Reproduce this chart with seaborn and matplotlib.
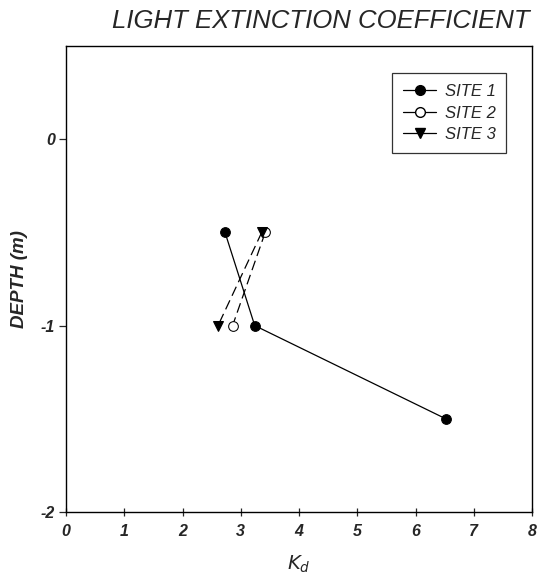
import numpy as np
import pandas as pd
import matplotlib
matplotlib.use("Agg")
import matplotlib.pyplot as plt
from matplotlib.lines import Line2D
import seaborn as sns

sns.set_style('ticks')
plt.rcParams['font.family'] = ['Liberation Sans', 'DejaVu Sans']

# values
site_names = ["SITE 1", "SITE 2", "SITE 3"]
site1_kd = [2.73, 3.24, 6.52]
site1_depth = [-0.5, -1.0, -1.5]
site2_kd = [3.42, 2.86]
site2_depth = [-0.5, -1.0]
site3_kd = [3.36, 2.61]
site3_depth = [-0.5, -1.0]
x_ticks = [0, 1, 2, 3, 4, 5, 6, 7, 8]
y_ticks = [0, -1, -2]

df = pd.concat([
    pd.DataFrame({'kd': site1_kd, 'depth': site1_depth, 'site': site_names[0]}),
    pd.DataFrame({'kd': site2_kd, 'depth': site2_depth, 'site': site_names[1]}),
    pd.DataFrame({'kd': site3_kd, 'depth': site3_depth, 'site': site_names[2]}),
], ignore_index=True)

fig = plt.figure(figsize=(5.38, 5.86), dpi=100)
ax = fig.add_axes([66/538, 1-512/586, (532-66)/538, (512-46)/586])

styles = {
    "SITE 1": dict(marker='o', mfc='black', ls='-'),
    "SITE 2": dict(marker='o', mfc='white', ls=(0, (8, 4))),
    "SITE 3": dict(marker='v', mfc='black', ls=(0, (8, 4))),
}
for name in site_names:
    sub = df[df['site'] == name]
    st = styles[name]
    sns.lineplot(data=sub, x='kd', y='depth', sort=False, ax=ax, color='black',
                 lw=0.9, linestyle=st['ls'], marker=st['marker'], markersize=7,
                 markerfacecolor=st['mfc'], markeredgecolor='black', legend=False)

ax.set_xlim(0, 8)
ax.set_ylim(-2, 0.5)
ax.set_xticks(x_ticks)
ax.set_yticks(y_ticks)
ax.set_xticklabels([str(t) for t in x_ticks], fontstyle='italic', fontweight='bold', fontsize=11.5)
ax.set_yticklabels([str(t) for t in y_ticks], fontstyle='italic', fontweight='bold', fontsize=11.5)
ax.tick_params(axis='x', direction='inout', length=6, width=0.9, pad=6)
ax.tick_params(axis='y', direction='out', length=5, width=0.9, pad=3)
for s in ax.spines.values():
    s.set_linewidth(1.0)
    s.set_color('black')

ax.set_xlabel('$K_d$', fontsize=14, labelpad=10)
ax.set_ylabel('DEPTH (m)', fontstyle='italic', fontweight='bold', fontsize=13.5, labelpad=9)
fig.text(0.597, 0.965, 'LIGHT EXTINCTION COEFFICIENT', ha='center', va='center',
         fontstyle='italic', fontsize=18.5)

# legend with solid handles as in the original
handles = [Line2D([], [], color='black', lw=0.9, marker=styles[n]['marker'], markersize=7,
                  markerfacecolor=styles[n]['mfc'], markeredgecolor='black') for n in site_names]
leg = ax.legend(handles, site_names, loc='upper left', bbox_to_anchor=(0.6996, 0.942),
                frameon=True, fancybox=False, edgecolor='black', handlelength=2.0,
                prop={'style': 'italic', 'size': 12}, borderpad=0.65, labelspacing=0.4,
                handletextpad=0.5, borderaxespad=0)
leg.get_frame().set_linewidth(0.9)

fig.savefig('out.png', dpi=100)
